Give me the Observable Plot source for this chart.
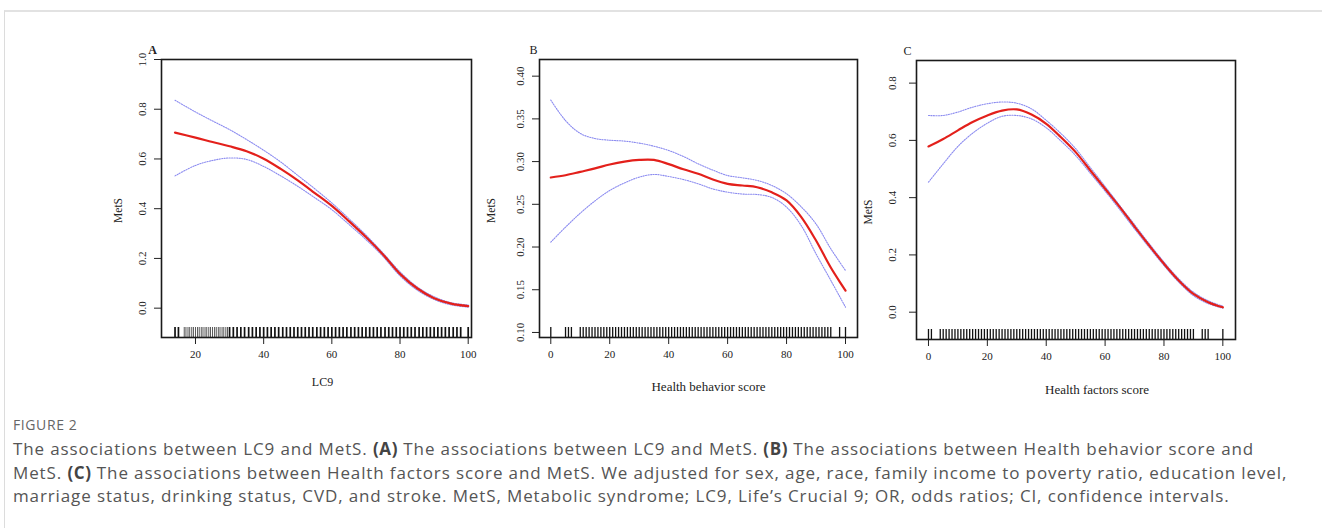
<!DOCTYPE html>
<html>
<head>
<meta charset="utf-8">
<script src="https://cdn.jsdelivr.net/npm/d3@7"></script>
<script src="https://cdn.jsdelivr.net/npm/@observablehq/plot@0.6"></script>
<style>
  html, body { margin: 0; padding: 0; background: #fff; }
  body { width: 1322px; height: 528px; position: relative; overflow: hidden; }
  #card { position: absolute; left: 4px; top: 10px; right: -4px; bottom: -4px;
          border-top: 2px solid #e2e2e2; border-left: 1px solid #dcdcdc; }
  .panel { position: absolute; }
  #figlabel { position: absolute; left: 13px; top: 415px; font-family: "Open Sans", sans-serif;
              font-size: 14px; color: #666; letter-spacing: 0.6px; }
  #caption { position: absolute; left: 13px; top: 437px; font-family: "Open Sans", sans-serif;
             font-size: 17px; letter-spacing: 0.88px; line-height: 23.5px; color: #555; white-space: nowrap; }
  #caption b { color: #444; letter-spacing: 0.6px; }
</style>
</head>
<body>
<div id="card"></div>
<div id="pA" class="panel" style="left:100px; top:40px;"></div>
<div id="pB" class="panel" style="left:470px; top:40px;"></div>
<div id="pC" class="panel" style="left:850px; top:40px;"></div>
<div id="figlabel">FIGURE 2</div>
<div id="caption">
The associations between LC9 and MetS. <b>(A)</b> The associations between LC9 and MetS. <b>(B)</b> The associations between Health behavior score and<br>
MetS. <b>(C)</b> The associations between Health factors score and MetS. We adjusted for sex, age, race, family income to poverty ratio, education level,<br>
marriage status, drinking status, CVD, and stroke. MetS, Metabolic syndrome; LC9, Life’s Crucial 9; OR, odds ratios; CI, confidence intervals.
</div>
<script>
// ---------- Panel A: LC9 ----------
const xA = [14, 20, 25, 30, 35, 40, 45, 50, 55, 60, 65, 70, 75, 80, 85, 90, 95, 100];
const fitA = [0.706, 0.686, 0.668, 0.651, 0.631, 0.601, 0.560, 0.514, 0.463, 0.411, 0.350, 0.286, 0.216, 0.138, 0.080, 0.040, 0.018, 0.008];
const upperA = [0.836, 0.789, 0.753, 0.718, 0.678, 0.635, 0.588, 0.534, 0.480, 0.423, 0.360, 0.294, 0.222, 0.146, 0.086, 0.046, 0.022, 0.013];
const lowerA = [0.532, 0.574, 0.594, 0.604, 0.598, 0.570, 0.532, 0.490, 0.444, 0.396, 0.337, 0.276, 0.208, 0.130, 0.073, 0.035, 0.013, 0.004];
const rugA = [14, 15, 16.7, 17.2, 17.8, 18.3, 18.9, 19.4, 20, 20.6, 21.1, 21.7, 22.2, 22.8, 23.3, 23.9, 24.4, 25, 25.6, 26.1, 26.7, 27.2, 27.8, 28.3, 28.9, 29.4,
  30, 31.1, 32.2, 33.3, 34.4, 35.6, 36.7, 37.8, 38.9, 40, 41.1, 42.2, 43.3, 44.4, 45.6, 46.7, 47.8, 48.9, 50, 51.1, 52.2, 53.3, 54.4, 55.6, 56.7, 57.8, 58.9,
  60, 61.1, 62.2, 63.3, 64.4, 65.6, 66.7, 67.8, 68.9, 70, 71.1, 72.2, 73.3, 74.4, 75.6, 76.7, 77.8, 78.9, 80, 81.1, 82.2, 83.3, 84.4, 85.6, 86.7, 87.8, 88.9,
  90, 91.1, 92.2, 93.3, 94.4, 95.6, 96.7, 97.8, 100];
const xTicksA = [20, 40, 60, 80, 100];
const yTicksA = [0.0, 0.2, 0.4, 0.6, 0.8, 1.0];

// ---------- Panel B: Health behavior score ----------
const xB = [0, 5, 10, 15, 20, 25, 30, 35, 40, 45, 50, 55, 60, 65, 70, 75, 80, 85, 90, 95, 100];
const fitB = [0.2814, 0.284, 0.288, 0.292, 0.2966, 0.300, 0.302, 0.302, 0.297, 0.291, 0.2857, 0.279, 0.274, 0.272, 0.270, 0.264, 0.2545, 0.235, 0.2076, 0.176, 0.149];
const upperB = [0.372, 0.348, 0.333, 0.327, 0.325, 0.324, 0.3216, 0.318, 0.313, 0.306, 0.2974, 0.290, 0.2837, 0.281, 0.278, 0.272, 0.2623, 0.247, 0.227, 0.198, 0.1725];
const lowerB = [0.2057, 0.2233, 0.2396, 0.254, 0.2662, 0.275, 0.2818, 0.2849, 0.2826, 0.279, 0.274, 0.268, 0.2642, 0.262, 0.2615, 0.258, 0.2467, 0.225, 0.192, 0.161, 0.1296];
const rugB = [0, 5, 6, 7, 10, 11, 12, 13, 14, 15, 16, 17, 18, 19, 20, 21, 22, 23, 24, 25, 26, 27, 28, 29, 30, 31, 32, 33, 34, 35, 36, 37, 38, 39,
  40, 41, 42, 43, 44, 45, 46, 47, 48, 49, 50, 51, 52, 53, 54, 55, 56, 57, 58, 59, 60, 61, 62, 63, 64, 65, 66, 67, 68, 69,
  70, 71, 72, 73, 74, 75, 76, 77, 78, 79, 80, 81, 82, 83, 84, 85, 86, 87, 88, 89, 90, 91, 92, 93, 94, 95, 98, 100];
const xTicksB = [0, 20, 40, 60, 80, 100];
const yTicksB = [0.10, 0.15, 0.20, 0.25, 0.30, 0.35, 0.40];

// ---------- Panel C: Health factors score ----------
const xC = [0, 5, 10, 15, 20, 25, 30, 35, 40, 45, 50, 55, 60, 65, 70, 75, 80, 85, 90, 95, 100];
const fitC = [0.579, 0.605, 0.635, 0.664, 0.687, 0.704, 0.708, 0.690, 0.658, 0.611, 0.559, 0.495, 0.431, 0.367, 0.299, 0.233, 0.169, 0.111, 0.064, 0.035, 0.017];
const upperC = [0.687, 0.687, 0.699, 0.716, 0.728, 0.734, 0.730, 0.710, 0.670, 0.624, 0.571, 0.505, 0.439, 0.372, 0.306, 0.239, 0.175, 0.117, 0.070, 0.040, 0.021];
const lowerC = [0.454, 0.518, 0.579, 0.625, 0.660, 0.684, 0.687, 0.675, 0.644, 0.598, 0.547, 0.485, 0.423, 0.358, 0.291, 0.226, 0.163, 0.105, 0.058, 0.030, 0.014];
const rugC = [0, 1, 4, 5, 6, 7, 8, 9, 10, 11, 12, 13, 14, 15, 16, 17, 18, 19, 20, 21, 22, 23, 24, 25, 26, 27, 28, 29, 30, 31, 32, 33, 34, 35, 36, 37, 38, 39,
  40, 41, 42, 43, 44, 45, 46, 47, 48, 49, 50, 51, 52, 53, 54, 55, 56, 57, 58, 59, 60, 61, 62, 63, 64, 65, 66, 67, 68, 69,
  70, 71, 72, 73, 74, 75, 76, 77, 78, 79, 80, 81, 82, 83, 84, 85, 86, 87, 88, 89, 90, 93, 94, 95, 100];
const xTicksC = [0, 20, 40, 60, 80, 100];
const yTicksC = [0.0, 0.2, 0.4, 0.6, 0.8];

const RED = "#e3201b";
const BLUE = "#8c8cf0";
const SERIF = "'Liberation Serif', 'Times New Roman', serif";

function panel(cfg) {
  const fit = cfg.x.map((x, i) => ({x, y: cfg.fit[i]}));
  const up = cfg.x.map((x, i) => ({x, y: cfg.upper[i]}));
  const lo = cfg.x.map((x, i) => ({x, y: cfg.lower[i]}));
  const frameH = cfg.height - cfg.mt - cfg.mb;
  return Plot.plot({
    width: cfg.width, height: cfg.height,
    marginLeft: cfg.ml, marginRight: cfg.mr, marginTop: cfg.mt, marginBottom: cfg.mb,
    style: {fontFamily: SERIF, fontSize: "11px", color: "#222", background: "transparent", overflow: "visible"},
    x: {domain: cfg.xDomain},
    y: {domain: cfg.yDomain},
    marks: [
      Plot.line(up, {x: "x", y: "y", stroke: BLUE, strokeWidth: 1.1, strokeDasharray: "1.2,1.3", curve: "catmull-rom"}),
      Plot.line(lo, {x: "x", y: "y", stroke: BLUE, strokeWidth: 1.1, strokeDasharray: "1.2,1.3", curve: "catmull-rom"}),
      Plot.line(fit, {x: "x", y: "y", stroke: RED, strokeWidth: 2.2, curve: "catmull-rom"}),
      Plot.tickX(cfg.rug, {x: d => d, stroke: "#111", strokeWidth: cfg.rugWidth, insetTop: frameH - 10}),
      Plot.axisX({ticks: cfg.xTicks, tickSize: 7, tickPadding: 6, label: null, fontSize: 11, tickFormat: d => String(d)}),
      Plot.axisY({ticks: cfg.yTicks, tickSize: 7, label: null, tickFormat: () => ""}),
      Plot.text(cfg.yTicks, {y: d => d, text: d => d.toFixed(cfg.yDigits), frameAnchor: "left", dx: cfg.yLabelDx,
        rotate: -90, textAnchor: "middle", lineAnchor: "middle", fontSize: 11}),
      Plot.frame({stroke: "#1a1a1a", strokeWidth: 1.6}),
      Plot.text([cfg.yLabel], {text: d => d, frameAnchor: "left", dx: cfg.yTitleDx, dy: cfg.yTitleDy,
        rotate: -90, textAnchor: "middle", lineAnchor: "middle", fontSize: 11.5}),
      Plot.text([cfg.xLabel], {text: d => d, frameAnchor: "bottom", dx: cfg.xTitleDx, dy: cfg.xTitleDy,
        textAnchor: "middle", lineAnchor: "middle", fontSize: cfg.xTitleSize}),
      Plot.text([cfg.letter], {text: d => d, frameAnchor: "top-left", dx: cfg.letterDx, dy: -9,
        textAnchor: "middle", lineAnchor: "middle", fontSize: 12, fontWeight: cfg.letterWeight})
    ]
  });
}

document.getElementById("pA").append(panel({
  width: 380, height: 360, ml: 61, mr: 9, mt: 19, mb: 63,
  x: xA, fit: fitA, upper: upperA, lower: lowerA, rug: rugA, rugWidth: d => (d > 16 && d < 30 ? 0.7 : 1.7),
  xDomain: [10.03, 100.97], yDomain: [-0.118, 1.0],
  xTicks: xTicksA, yTicks: yTicksA, yDigits: 1, yLabelDx: -19,
  yLabel: "MetS", yTitleDx: -43, yTitleDy: 12,
  xLabel: "LC9", xTitleDx: 6, xTitleDy: 45, xTitleSize: 12,
  letter: "A", letterDx: -9, letterWeight: "bold"
}));

document.getElementById("pB").append(panel({
  width: 400, height: 360, ml: 69, mr: 13, mt: 19, mb: 63,
  x: xB, fit: fitB, upper: upperB, lower: lowerB, rug: rugB, rugWidth: 1.3,
  xDomain: [-3.83, 104.07], yDomain: [0.0941, 0.4195],
  xTicks: xTicksB, yTicks: yTicksB, yDigits: 2, yLabelDx: -19,
  yLabel: "MetS", yTitleDx: -48, yTitleDy: 12,
  xLabel: "Health behavior score", xTitleDx: 10, xTitleDy: 49, xTitleSize: 13,
  letter: "B", letterDx: -6, letterWeight: "normal"
}));

document.getElementById("pC").append(panel({
  width: 400, height: 360, ml: 66, mr: 15, mt: 20, mb: 61,
  x: xC, fit: fitC, upper: upperC, lower: lowerC, rug: rugC, rugWidth: 1.3,
  xDomain: [-4.07, 104.3], yDomain: [-0.0954, 0.879],
  xTicks: xTicksC, yTicks: yTicksC, yDigits: 1, yLabelDx: -24,
  yLabel: "MetS", yTitleDx: -48, yTitleDy: 12,
  xLabel: "Health factors score", xTitleDx: 21, xTitleDy: 50, xTitleSize: 13,
  letter: "C", letterDx: -9, letterWeight: "normal"
}));
</script>
</body>
</html>
